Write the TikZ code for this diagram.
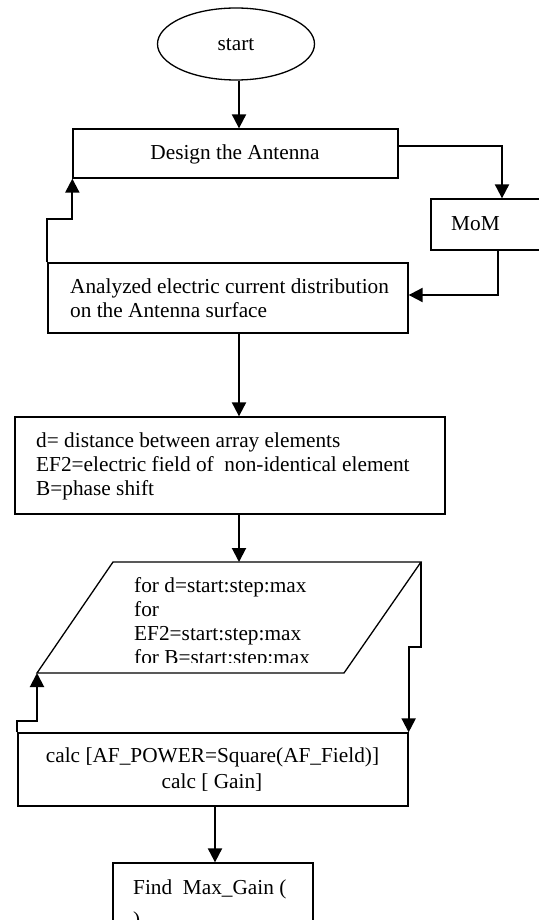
\documentclass[tikz,border=0pt]{standalone}
\usepackage{fontspec}
\setmainfont{Liberation Serif}
\usetikzlibrary{arrows.meta,shapes.geometric}
\begin{document}
\begin{tikzpicture}[x=1pt,y=-1pt,
  box/.style={draw, line width=1.3pt, rectangle, inner sep=0pt},
  conn/.style={line width=2pt, -{Triangle[length=14pt,width=14pt]}},
  txt/.style={inner sep=0pt, font=\fontsize{21.3}{24.3}\selectfont},
]
\useasboundingbox[fill=white] (0,0) rectangle (538,920);

% boxes
\node[box, ellipse, minimum width=157pt, minimum height=72pt] (start) at (236,44) {};
\node[box, minimum width=325pt, minimum height=49pt] (design) at (235.5,153.5) {};
\node[box, minimum width=129pt, minimum height=51pt] (mom) at (495.5,224.5) {};
\node[box, minimum width=360pt, minimum height=70pt] (anal) at (228,298) {};
\node[box, minimum width=430pt, minimum height=97pt] (params) at (230,465.5) {};
\node[box, minimum width=390pt, minimum height=73pt] (calc) at (213,769.5) {};
\node[box, minimum width=200pt, minimum height=87pt] (find) at (213,906.5) {};

% parallelogram
\coordinate (pTL) at (113,562);
\coordinate (pTR) at (421,562);
\coordinate (pBR) at (344,673);
\coordinate (pBL) at (37,673);
\coordinate (ptop) at (239,562);
\draw[line width=1.3pt] (pTL) -- (pTR) -- (pBR) -- (pBL) -- cycle;

% texts
\node[txt, anchor=base] (tstart) at (236,50.5) {start};
\node[txt, anchor=base] (tdesign) at (235,160) {Design the Antenna};
\node[txt, anchor=base west] (tmom) at (451,230) {MoM};
\node[txt, anchor=base west] (tanal) at (70,293) {\vtop{\hbox{Analyzed electric current distribution}\hbox{on the Antenna surface}}};
\node[txt, anchor=base west] (tparams) at (36,447) {\vtop{\hbox{d= distance between array elements}\hbox{EF2=electric field of\ \ non-identical element}\hbox{B=phase shift}}};
\begin{scope}
\clip (100,566) rectangle (430,662);
\node[txt, anchor=base west] (tpara) at (134,592) {\vtop{\hbox{for d=start:step:max}\hbox{for}\hbox{EF2=start:step:max}\hbox{for B=start:step:max}}};
\end{scope}
\node[txt, anchor=base] (tcalca) at (212.5,762) {calc [AF\_POWER=Square(AF\_Field)]};
\node[txt, anchor=base] (tcalcb) at (212,788) {calc [ Gain]};
\node[txt, anchor=base west] (tfind) at (133,894.5) {\vtop{\baselineskip=32pt\hbox{Find\ \ Max\_Gain (}\hbox{)}}};

% connectors
\draw[conn] ([xshift=3pt]start.south) -- ([xshift=3pt]start.south |- design.north);
\draw[conn] ([yshift=7.5pt]design.east) -| ([xshift=6.5pt]mom.north);
\draw[conn] ([xshift=2.5pt]mom.south) |- ([yshift=3pt]anal.east);
\draw[conn] (anal.north west) -- ++(0,-43) -| (design.south west);
\draw[conn] ([xshift=11pt]anal.south) -- ([xshift=9pt]params.north);
\draw[conn] ([xshift=9pt]params.south) -- (ptop);
\draw[conn] (pTR) -- ++(0,85) -| (calc.north east);
\draw[conn] (calc.north west) -- ++(0,-11) -| (pBL);
\draw[conn] ([xshift=2pt]calc.south) -- ([xshift=2pt]find.north);
\end{tikzpicture}
\end{document}
